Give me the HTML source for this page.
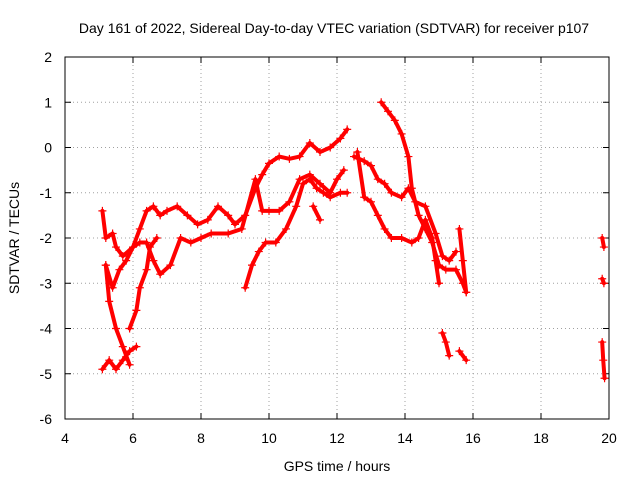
<!DOCTYPE html>
<html><head><meta charset="utf-8"><style>
body{margin:0;background:#fff}
svg{display:block;font-family:"Liberation Sans",sans-serif}
</style></head><body>
<svg id="chart" width="640" height="480">
<text x="334" y="33" font-size="14" text-anchor="middle">Day 161 of 2022, Sidereal Day-to-day VTEC variation (SDTVAR) for receiver p107</text>
<text x="337" y="471" font-size="14" text-anchor="middle">GPS time / hours</text>
<text transform="translate(19,238) rotate(-90)" font-size="14" text-anchor="middle">SDTVAR / TECUs</text>
<g id="grid"></g>
<g id="ticks"></g>
<g id="marks"></g>
<rect x="65" y="57" width="544" height="362" fill="none" stroke="#000"/>
</svg>
<script>
const xTicks=[4,6,8,10,12,14,16,18,20];
const yTicks=[2,1,0,-1,-2,-3,-4,-5,-6];
const trackA=[[5.1,-1.4],[5.2,-2.0],[5.4,-1.9],[5.5,-2.2],[5.7,-2.4],[6.0,-2.2],[6.2,-1.8],[6.4,-1.4],[6.6,-1.3],[6.8,-1.5],[7.0,-1.4],[7.3,-1.3],[7.6,-1.5],[7.9,-1.7],[8.2,-1.6],[8.5,-1.3],[8.8,-1.5],[9.0,-1.7],[9.3,-1.5],[9.6,-0.9],[9.8,-0.6],[10.0,-0.35],[10.3,-0.2],[10.6,-0.25],[10.9,-0.2],[11.2,0.1],[11.5,-0.1],[11.8,0.0],[12.1,0.2],[12.3,0.4]];
const trackA2=[[12.5,-0.2],[12.8,-0.3],[13.0,-0.4],[13.2,-0.7],[13.4,-0.8],[13.6,-1.0],[13.9,-1.1],[14.1,-0.9],[14.3,-1.2],[14.6,-1.3],[14.9,-1.9],[15.1,-2.4],[15.3,-2.5],[15.5,-2.3]];
const trackB=[[5.2,-2.6],[5.4,-3.1],[5.6,-2.7],[5.8,-2.5],[6.0,-2.2],[6.2,-2.1],[6.4,-2.1],[6.6,-2.5],[6.8,-2.8],[7.1,-2.6],[7.4,-2.0],[7.7,-2.1],[8.0,-2.0],[8.3,-1.9],[8.8,-1.9],[9.2,-1.8],[9.6,-0.7],[9.8,-1.4],[10.0,-1.4],[10.3,-1.4],[10.6,-1.2],[10.9,-0.7],[11.2,-0.6],[11.5,-0.8],[11.8,-1.0],[12.0,-0.7],[12.2,-0.5]];
const trackC=[[9.3,-3.1],[9.5,-2.6],[9.7,-2.3],[9.9,-2.1],[10.2,-2.1],[10.5,-1.8],[10.8,-1.3],[11.0,-0.8],[11.2,-0.7],[11.4,-0.9],[11.6,-1.0],[11.8,-1.1],[12.1,-1.0],[12.3,-1.0]];
const trackC2=[[11.3,-1.3],[11.5,-1.6]];
const trackD=[[5.1,-4.9],[5.3,-4.7],[5.5,-4.9],[5.7,-4.7],[5.9,-4.5],[6.1,-4.4]];
const trackD2=[[5.2,-2.6],[5.3,-3.4],[5.5,-4.0],[5.7,-4.4],[5.9,-4.8]];
const trackD3=[[5.9,-4.0],[6.1,-3.6],[6.2,-3.1],[6.4,-2.7],[6.5,-2.2],[6.7,-2.0]];
const trackE=[[13.3,1.0],[13.5,0.8],[13.7,0.6],[13.9,0.3],[14.1,-0.2],[14.2,-0.9],[14.4,-1.5],[14.6,-1.8],[14.8,-2.1],[15.0,-2.6],[15.2,-2.7],[15.5,-2.7],[15.7,-3.0],[15.8,-3.2]];
const trackF=[[12.6,-0.1],[12.8,-1.1],[13.0,-1.2],[13.2,-1.5],[13.4,-1.8],[13.6,-2.0],[13.9,-2.0],[14.2,-2.1],[14.4,-2.0],[14.6,-1.6],[14.8,-2.0],[14.9,-2.5],[15.0,-3.0]];
const trackG=[[15.1,-4.1],[15.2,-4.3],[15.3,-4.6]];
const trackH=[[15.6,-4.5],[15.8,-4.7]];
const trackI=[[15.6,-1.8],[15.7,-2.5],[15.8,-3.2]];
const trackJ=[[19.8,-2.0],[19.85,-2.2]];
const trackK=[[19.8,-2.9],[19.85,-3.0]];
const trackL=[[19.8,-4.3],[19.83,-4.7],[19.87,-5.1]];
const tracks=[trackA,trackA2,trackB,trackC,trackC2,trackD,trackD2,trackD3,trackE,trackF,trackG,trackH,trackI,trackJ,trackK,trackL];
const NS='http://www.w3.org/2000/svg';
const X=v=>65+(v-4)*34, Y=v=>57+(2-v)*45.25;
const g=document.getElementById('grid'),t=document.getElementById('ticks'),m=document.getElementById('marks');
function mk(tag,attrs,parent){const e=document.createElementNS(NS,tag);for(const k in attrs)e.setAttribute(k,attrs[k]);parent.appendChild(e);return e;}
xTicks.forEach(v=>{
 const l=mk('line',{x1:X(v),x2:X(v),y1:57,y2:419,stroke:'#a0a0a0','stroke-dasharray':'1,3'},g);
 
 
 mk('line',{x1:X(v),x2:X(v),y1:419,y2:413,stroke:'#000'},t);
 mk('line',{x1:X(v),x2:X(v),y1:57,y2:63,stroke:'#000'},t);
 const tx=mk('text',{x:X(v),y:443,'font-size':14,'text-anchor':'middle'},t);tx.textContent=v;
 
 
});
yTicks.forEach(v=>{
 const l=mk('line',{x1:65,x2:609,y1:Y(v),y2:Y(v),stroke:'#a0a0a0','stroke-dasharray':'1,3'},g);
 
 
 mk('line',{x1:65,x2:71,y1:Y(v),y2:Y(v),stroke:'#000'},t);
 mk('line',{x1:603,x2:609,y1:Y(v),y2:Y(v),stroke:'#000'},t);
 const tx=mk('text',{x:52,y:Y(v)+5,'font-size':14,'text-anchor':'end'},t);tx.textContent=v;
 
 
});
tracks.forEach(tr=>{
 const pl=mk('polyline',{points:tr.map(p=>X(p[0])+','+Y(p[1])).join(' '),fill:'none',stroke:'#f00','stroke-width':4,'stroke-linejoin':'round','stroke-linecap':'round'},m);
 
 
 tr.forEach(p=>{
  const x=X(p[0]),y=Y(p[1]);
  const c=mk('path',{d:`M${x-4},${y}h8M${x},${y-4}v8`,stroke:'#f00','stroke-width':1.2},m);
  
  
 });
});
</script>
</body></html>
